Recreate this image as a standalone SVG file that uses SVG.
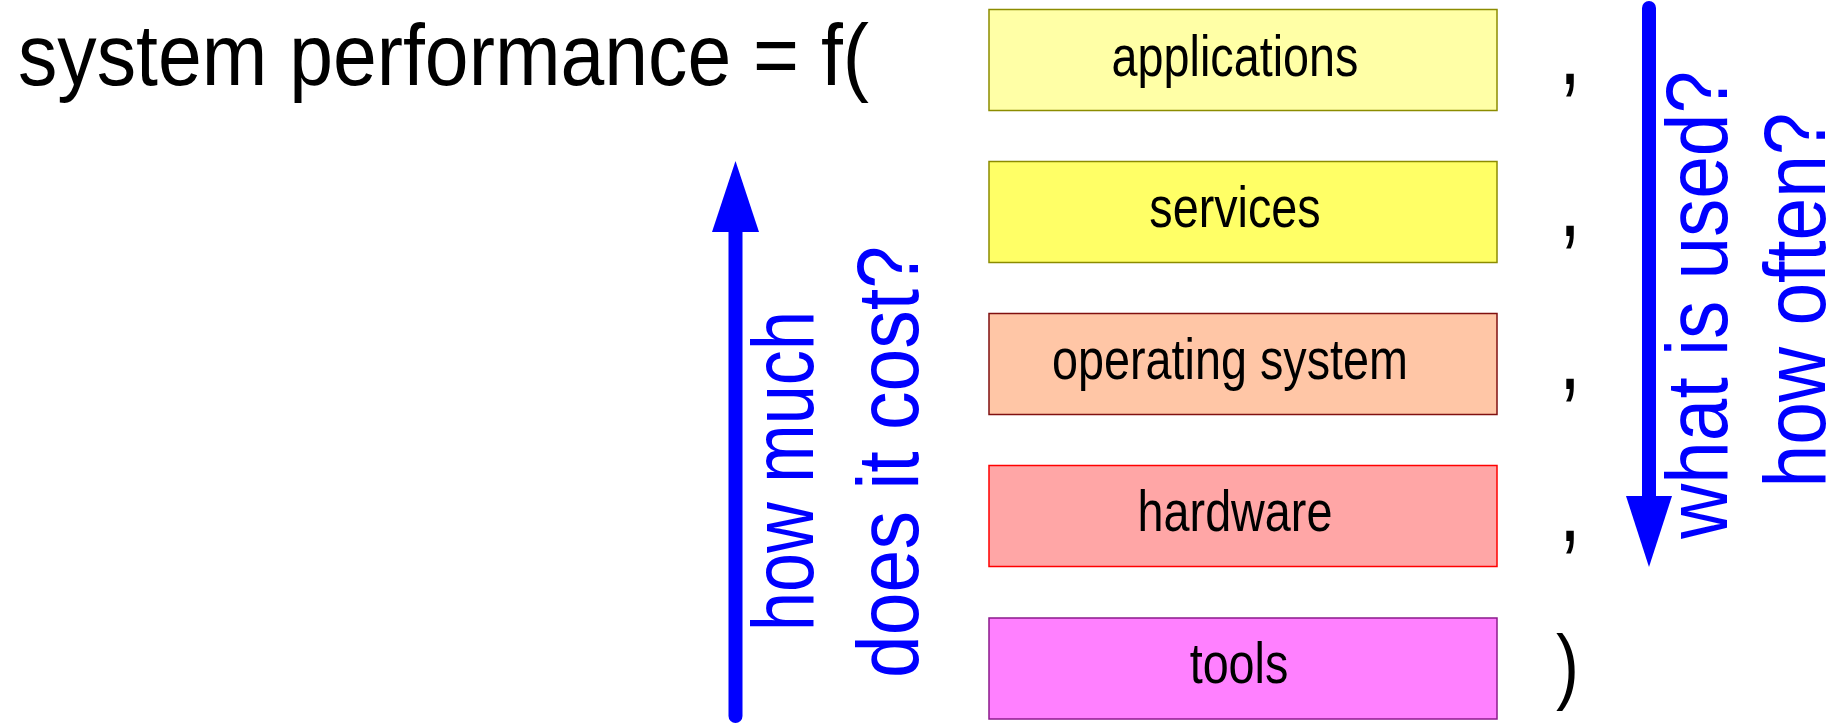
<svg xmlns="http://www.w3.org/2000/svg" width="1844" height="723" viewBox="0 0 1844 723">
<style>
  .lbl { font-family: "Liberation Sans", Arial, sans-serif; font-size: 57px; fill: #000; text-anchor: middle; }
  .big { font-family: "Liberation Sans", Arial, sans-serif; font-size: 96px; fill: #000; }
  .title { font-family: "Liberation Sans", Arial, sans-serif; font-size: 88px; fill: #000; }
  .blue { font-family: "Liberation Sans", Arial, sans-serif; font-size: 88px; fill: #0000ff; text-anchor: middle; }
  .box { stroke-width: 1.5; }
  .shaft { stroke: #0000ff; stroke-width: 14; stroke-linecap: round; fill: none; }
  .head { fill: #0000ff; }
</style>
<rect width="1844" height="723" fill="#ffffff"/>
<g id="title">
  <text class="title" x="18" y="85" textLength="851" lengthAdjust="spacingAndGlyphs">system performance = f(</text>
</g>
<g id="applications">
  <rect class="box" x="989" y="9.5" width="508" height="101" fill="#ffffa6" stroke="#8c8c00"/>
  <text class="lbl" transform="translate(1235,76) scale(0.82,1)">applications</text>
</g>
<g id="services">
  <rect class="box" x="989" y="161.5" width="508" height="101" fill="#ffff66" stroke="#8c8c00"/>
  <text class="lbl" transform="translate(1235,227) scale(0.82,1)">services</text>
</g>
<g id="operating-system">
  <rect class="box" x="989" y="313.5" width="508" height="101" fill="#ffc6a6" stroke="#801010"/>
  <text class="lbl" transform="translate(1230,379) scale(0.82,1)">operating system</text>
</g>
<g id="hardware">
  <rect class="box" x="989" y="465.5" width="508" height="101" fill="#ffa6a6" stroke="#ff0000"/>
  <text class="lbl" transform="translate(1235,531) scale(0.82,1)">hardware</text>
</g>
<g id="tools">
  <rect class="box" x="989" y="618" width="508" height="101" fill="#ff80ff" stroke="#8c1a8c"/>
  <text class="lbl" transform="translate(1239,683) scale(0.82,1)">tools</text>
</g>
<g id="punctuation">
  <text class="big" transform="translate(1559,84) scale(0.82,1)">,</text>
  <text class="big" transform="translate(1559,236) scale(0.82,1)">,</text>
  <text class="big" transform="translate(1559,389) scale(0.82,1)">,</text>
  <text class="big" transform="translate(1559,541) scale(0.82,1)">,</text>
  <text class="big" style="font-size:84px" transform="translate(1556,694) scale(0.82,1)">)</text>
</g>
<g id="connectors">
  <g id="arrow-up">
    <line class="shaft" x1="735.5" y1="716" x2="735.5" y2="225"/>
    <polygon class="head" points="735.5,161 712,232 759,232"/>
  </g>
  <g id="arrow-down">
    <line class="shaft" x1="1649" y1="8" x2="1649" y2="500"/>
    <polygon class="head" points="1649,567 1626,496 1672,496"/>
  </g>
</g>
<g id="cost-label">
  <text class="blue" transform="translate(813,471) rotate(-90)" textLength="320" lengthAdjust="spacingAndGlyphs">how much</text>
  <text class="blue" transform="translate(918,462) rotate(-90)" textLength="432" lengthAdjust="spacingAndGlyphs">does it cost?</text>
</g>
<g id="usage-label">
  <text class="blue" transform="translate(1727,305) rotate(-90)" textLength="468" lengthAdjust="spacingAndGlyphs">what is used?</text>
  <text class="blue" transform="translate(1825,300) rotate(-90)" textLength="375" lengthAdjust="spacingAndGlyphs">how often?</text>
</g>
</svg>
